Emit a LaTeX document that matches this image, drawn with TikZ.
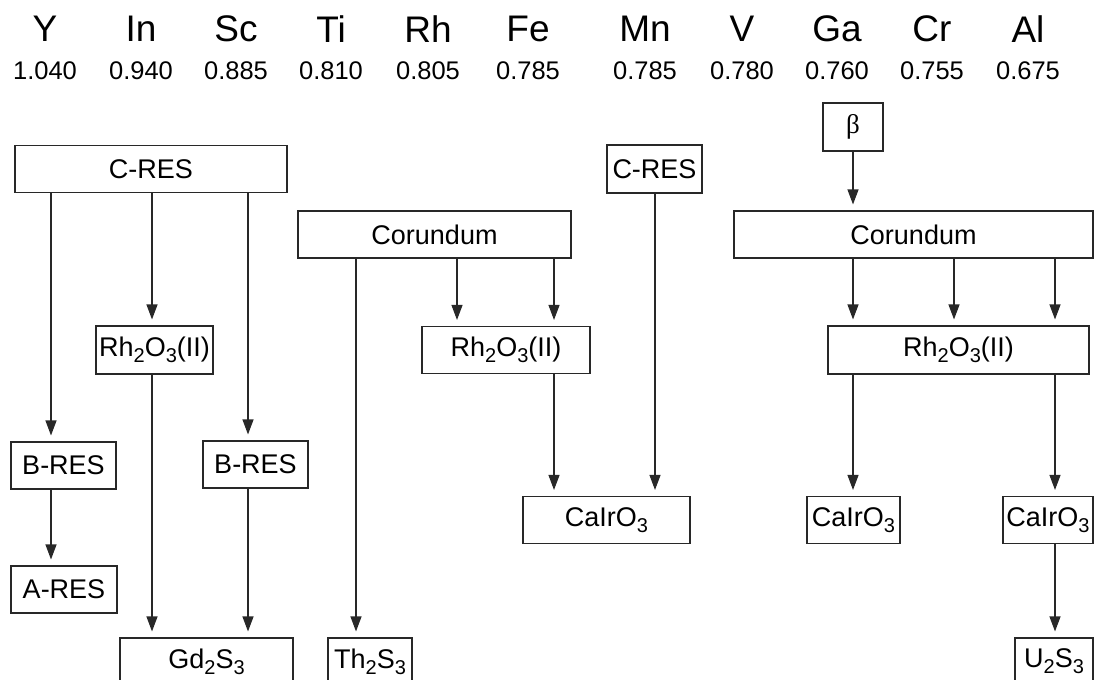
\documentclass[tikz,border=0pt]{standalone}
\usepackage{fontspec}
\setmainfont{Liberation Sans}
\newfontfamily\greekfont{Liberation Serif}
\usetikzlibrary{arrows.meta,positioning}
\definecolor{lineg}{RGB}{40,40,40}
\newcommand\sbs[1]{\raisebox{-0.42ex}{\fontsize{20}{22}\selectfont #1}}

\begin{document}
\begin{tikzpicture}[x=1pt,y=-1pt,
  box/.style={draw=lineg,line width=1.1pt,inner sep=0pt,minimum height=47pt,font=\fontsize{27}{30}\selectfont},
  conn/.style={-{Triangle[length=15pt,width=11pt]},draw=lineg,line width=1.1pt,shorten >=6pt}]
\clip (0,0) rectangle (1095,680);
% ionic radii header
\foreach \el/\rad/\x in {Y/1.040/45,In/0.940/141,Sc/0.885/236,Ti/0.810/331,Rh/0.805/428,Fe/0.785/528,Mn/0.785/645,V/0.780/742,Ga/0.760/837,Cr/0.755/932,Al/0.675/1028}{
  \node[font=\fontsize{37}{40}\selectfont,inner sep=0pt] (el-\el) at (\x,29) {\el};
  \node[font=\fontsize{25.5}{28}\selectfont,inner sep=0pt] (rad-\el) at (\x,71) {\rad};
}
% columns of the connectors
\foreach \n/\x in {a/51,b/152,c/248,d/356,e/457,f/554,g/655,h/853,i/954,j/1055}
  \coordinate (col\n) at (\x,0);
% left group
\node[box,minimum width=272pt] (cresL) at (151,169) {C-RES};
\node[box,minimum width=117pt,minimum height=48pt] (rhL) at (154.5,350) {Rh\sbs{2}O\sbs{3}(II)};
\node[box,minimum width=105pt] (bresL) at (63.5,465.5) {B-RES};
\node[box,minimum width=106pt] (aresL) at (64,589.5) {A-RES};
\node[box,minimum width=105pt] (bresR) at (255.5,464.5) {B-RES};
\node[box,minimum width=173pt] (gd) at (206.5,661.5) {Gd\sbs{2}S\sbs{3}};
% middle group
\node[box,minimum width=273pt] (corM) at (434.5,234.5) {Corundum};
\node[box,minimum width=84pt] (th) at (370,661.5) {Th\sbs{2}S\sbs{3}};
\node[box,minimum width=168pt] (rhM) at (506,350) {Rh\sbs{2}O\sbs{3}(II)};
\node[box,minimum width=95pt,minimum height=48pt] (cresR) at (654.5,169) {C-RES};
\node[box,minimum width=167pt] (caM) at (606.5,520) {CaIrO\sbs{3}};
% right group
\node[box,minimum width=60pt,minimum height=48pt] (beta) at (853,127) {\greekfont β};
\node[box,minimum width=359pt] (corR) at (913.5,234.5) {Corundum};
\node[box,minimum width=261pt,minimum height=48pt] (rhR) at (958.5,350) {Rh\sbs{2}O\sbs{3}(II)};
\node[box,minimum width=93pt] (caR1) at (853.5,520) {CaIrO\sbs{3}};
\node[box,minimum width=90pt] (caR2) at (1048,520) {CaIrO\sbs{3}};
\node[box,minimum width=78pt] (u) at (1054,661.5) {U\sbs{2}S\sbs{3}};
% connectors
\draw[conn] (cresL.south -| cola) -- (bresL.north -| cola);
\draw[conn] (bresL.south -| cola) -- (aresL.north -| cola);
\draw[conn] (cresL.south -| colb) -- (rhL.north -| colb);
\draw[conn] (rhL.south -| colb) -- (gd.north -| colb);
\draw[conn] (cresL.south -| colc) -- (bresR.north -| colc);
\draw[conn] (bresR.south -| colc) -- (gd.north -| colc);
\draw[conn] (corM.south -| cold) -- (th.north -| cold);
\draw[conn] (corM.south -| cole) -- (rhM.north -| cole);
\draw[conn] (corM.south -| colf) -- (rhM.north -| colf);
\draw[conn] (rhM.south -| colf) -- (caM.north -| colf);
\draw[conn] (cresR.south -| colg) -- (caM.north -| colg);
\draw[conn] (beta.south -| colh) -- (corR.north -| colh);
\foreach \c in {h,i,j}
  \draw[conn] (corR.south -| col\c) -- (rhR.north -| col\c);
\draw[conn] (rhR.south -| colh) -- (caR1.north -| colh);
\draw[conn] (rhR.south -| colj) -- (caR2.north -| colj);
\draw[conn] (caR2.south -| colj) -- (u.north -| colj);
\end{tikzpicture}
\end{document}
